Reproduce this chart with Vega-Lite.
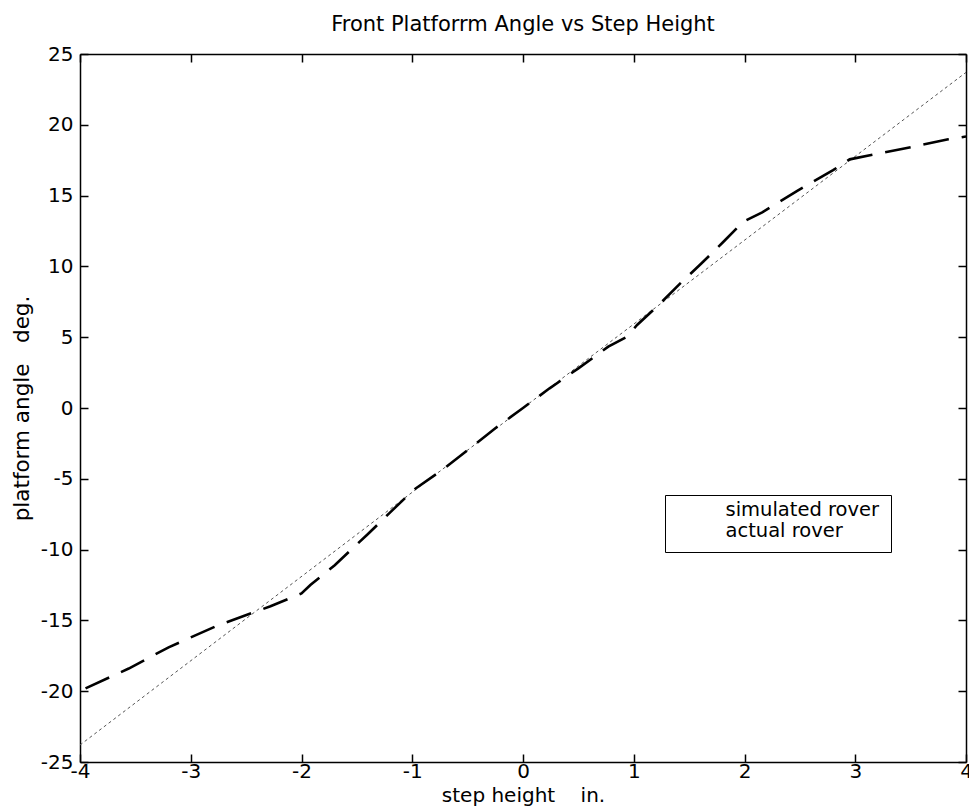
{
  "$schema": "https://vega.github.io/schema/vega-lite/v6.json",
  "width": 886,
  "height": 708,
  "autosize": {"type": "none"},
  "padding": {"left": 80, "top": 54, "right": 3, "bottom": 46},
  "background": "white",
  "title": {
    "text": "Front Platforrm Angle vs Step Height",
    "font": "DejaVu Sans",
    "fontSize": 21,
    "fontWeight": "normal",
    "color": "black",
    "anchor": "middle",
    "offset": 9
  },
  "config": {
    "view": {"stroke": null},
    "axis": {
      "domainColor": "black",
      "domainWidth": 1.5,
      "tickColor": "black",
      "tickWidth": 1.5,
      "tickSize": -8,
      "grid": false,
      "labelFont": "DejaVu Sans",
      "labelFontSize": 20,
      "labelColor": "black",
      "labelFlush": false,
      "labelOverlap": false,
      "titleFont": "DejaVu Sans",
      "titleFontSize": 20,
      "titleFontWeight": "normal",
      "titleColor": "black"
    },
    "legend": {
      "orient": "none",
      "legendX": 585,
      "legendY": 441,
      "strokeColor": "black",
      "fillColor": "white",
      "padding": 11,
      "rowPadding": 0,
      "symbolOpacity": 0,
      "symbolSize": 16,
      "labelOffset": 30,
      "labelFont": "DejaVu Sans",
      "labelFontSize": 19.5,
      "labelBaseline": "alphabetic",
      "labelColor": "black",
      "labelLimit": 400
    }
  },
  "datasets": {
    "sim": [
      {"x": -4, "y": -23.8, "series": "simulated rover"},
      {"x": 0, "y": 0, "series": "simulated rover"},
      {"x": 4, "y": 23.7, "series": "simulated rover"}
    ],
    "act": [
      {"x": -3.95, "y": -19.8, "series": "actual rover"},
      {"x": -3.56, "y": -18.4, "series": "actual rover"},
      {"x": -3.2, "y": -16.9, "series": "actual rover"},
      {"x": -2.77, "y": -15.4, "series": "actual rover"},
      {"x": -2.28, "y": -14.0, "series": "actual rover"},
      {"x": -2.0, "y": -13.1, "series": "actual rover"},
      {"x": -1.92, "y": -12.5, "series": "actual rover"},
      {"x": -1.7, "y": -11.1, "series": "actual rover"},
      {"x": -1.4, "y": -8.9, "series": "actual rover"},
      {"x": -1.19, "y": -7.3, "series": "actual rover"},
      {"x": -0.99, "y": -5.8, "series": "actual rover"},
      {"x": -0.73, "y": -4.38, "series": "actual rover"},
      {"x": -0.48, "y": -2.85, "series": "actual rover"},
      {"x": -0.25, "y": -1.43, "series": "actual rover"},
      {"x": 0.0, "y": 0.0, "series": "actual rover"},
      {"x": 0.24, "y": 1.39, "series": "actual rover"},
      {"x": 0.5, "y": 2.8, "series": "actual rover"},
      {"x": 0.77, "y": 4.33, "series": "actual rover"},
      {"x": 0.94, "y": 5.04, "series": "actual rover"},
      {"x": 1.03, "y": 5.86, "series": "actual rover"},
      {"x": 1.24, "y": 7.39, "series": "actual rover"},
      {"x": 1.42, "y": 8.8, "series": "actual rover"},
      {"x": 1.61, "y": 10.2, "series": "actual rover"},
      {"x": 1.81, "y": 11.74, "series": "actual rover"},
      {"x": 1.99, "y": 13.16, "series": "actual rover"},
      {"x": 2.16, "y": 13.82, "series": "actual rover"},
      {"x": 2.48, "y": 15.35, "series": "actual rover"},
      {"x": 2.8, "y": 16.8, "series": "actual rover"},
      {"x": 2.95, "y": 17.56, "series": "actual rover"},
      {"x": 3.42, "y": 18.29, "series": "actual rover"},
      {"x": 3.84, "y": 18.98, "series": "actual rover"},
      {"x": 4.0, "y": 19.17, "series": "actual rover"}
    ]
  },
  "layer": [
    {
      "data": {"name": "sim"},
      "mark": {"type": "line", "strokeDash": [3, 3], "strokeWidth": 1, "clip": true},
      "encoding": {
        "x": {
          "field": "x", "type": "quantitative",
          "scale": {"domain": [-4, 4], "nice": false, "zero": false},
          "axis": {"orient": "bottom", "values": [-4, -3, -2, -1, 0, 1, 2, 3, 4], "labelExpr": "'' + datum.value", "labelPadding": 7, "title": "step height\u00a0\u00a0\u00a0\u00a0in.", "titlePadding": 4}
        },
        "y": {
          "field": "y", "type": "quantitative",
          "scale": {"domain": [-25, 25], "nice": false, "zero": false},
          "axis": {"orient": "left", "values": [-25, -20, -15, -10, -5, 0, 5, 10, 15, 20, 25], "labelExpr": "'' + datum.value", "labelPadding": 15, "title": "platform angle\u00a0\u00a0\u00a0deg.", "titleFontSize": 21.5, "titlePadding": 7}
        },
        "color": {
          "field": "series", "type": "nominal",
          "scale": {"domain": ["simulated rover", "actual rover"], "range": ["#555555", "#000000"]},
          "legend": {"title": null, "labelExpr": "datum.label + '\u00a0\u00a0\u00a0\u00a0'"}
        }
      }
    },
    {
      "data": {"name": "act"},
      "mark": {"type": "line", "strokeDash": [26, 13], "strokeWidth": 2.6, "clip": true},
      "encoding": {
        "x": {
          "field": "x", "type": "quantitative",
          "axis": {"orient": "top", "values": [-4, -3, -2, -1, 0, 1, 2, 3, 4], "labels": false, "title": null}
        },
        "y": {
          "field": "y", "type": "quantitative",
          "axis": {"orient": "right", "values": [-25, -20, -15, -10, -5, 0, 5, 10, 15, 20, 25], "labels": false, "title": null}
        },
        "color": {"field": "series", "type": "nominal"}
      }
    }
  ],
  "resolve": {"axis": {"x": "independent", "y": "independent"}}
}
